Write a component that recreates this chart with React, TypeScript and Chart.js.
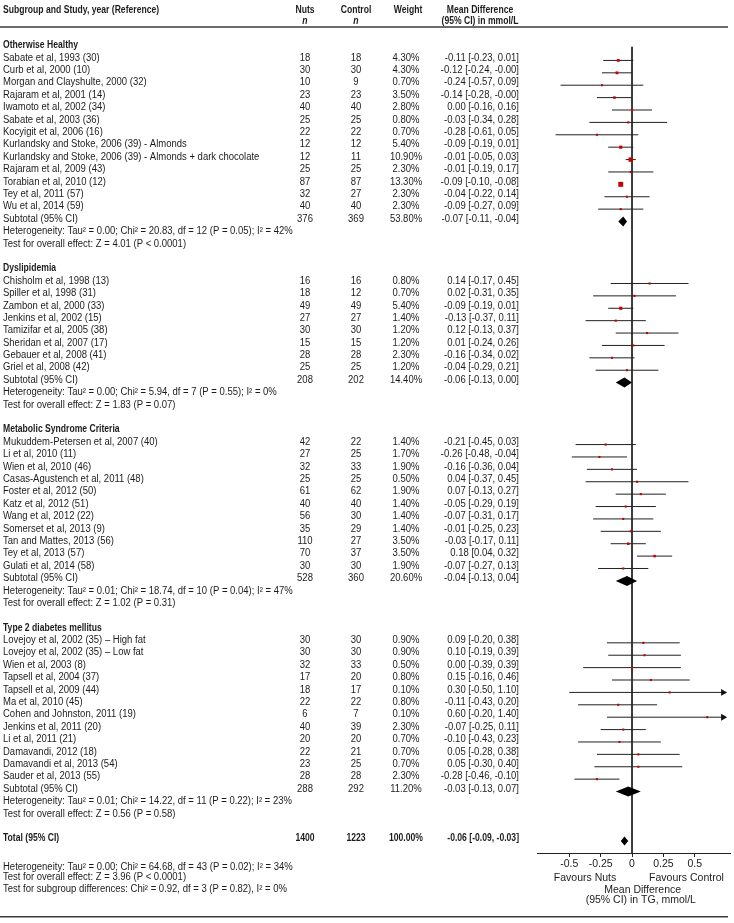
import React, { useEffect, useRef } from "react";
import { Chart, registerables } from "chart.js";

Chart.register(...registerables);

// ---------- data ----------
const groupNames = [
  "Otherwise Healthy",
  "Dyslipidemia",
  "Metabolic Syndrome Criteria",
  "Type 2 diabetes mellitus",
];

const studyGroup = [
  0, 0, 0, 0, 0, 0, 0, 0, 0, 0, 0, 0, 0,
  1, 1, 1, 1, 1, 1, 1, 1,
  2, 2, 2, 2, 2, 2, 2, 2, 2, 2, 2,
  3, 3, 3, 3, 3, 3, 3, 3, 3, 3, 3, 3,
];

const studyNames = [
  "Sabate et al, 1993 (30)",
  "Curb et al, 2000 (10)",
  "Morgan and Clayshulte, 2000 (32)",
  "Rajaram et al, 2001 (14)",
  "Iwamoto et al, 2002 (34)",
  "Sabate et al, 2003 (36)",
  "Kocyigit et al, 2006 (16)",
  "Kurlandsky and Stoke, 2006 (39) - Almonds",
  "Kurlandsky and Stoke, 2006 (39) - Almonds + dark chocolate",
  "Rajaram et al, 2009 (43)",
  "Torabian et al, 2010 (12)",
  "Tey et al, 2011 (57)",
  "Wu et al, 2014 (59)",
  "Chisholm et al, 1998 (13)",
  "Spiller et al, 1998 (31)",
  "Zambon et al, 2000 (33)",
  "Jenkins et al, 2002 (15)",
  "Tamizifar et al, 2005 (38)",
  "Sheridan et al, 2007 (17)",
  "Gebauer et al, 2008 (41)",
  "Griel et al, 2008 (42)",
  "Mukuddem-Petersen et al, 2007 (40)",
  "Li et al, 2010 (11)",
  "Wien et al, 2010 (46)",
  "Casas-Agustench et al, 2011 (48)",
  "Foster et al, 2012 (50)",
  "Katz et al, 2012 (51)",
  "Wang et al, 2012 (22)",
  "Somerset et al, 2013 (9)",
  "Tan and Mattes, 2013 (56)",
  "Tey et al, 2013 (57)",
  "Gulati et al, 2014 (58)",
  "Lovejoy et al, 2002 (35) \u2013 High fat",
  "Lovejoy et al, 2002 (35) \u2013 Low fat",
  "Wien et al, 2003 (8)",
  "Tapsell et al, 2004 (37)",
  "Tapsell et al, 2009 (44)",
  "Ma et al, 2010 (45)",
  "Cohen and Johnston, 2011 (19)",
  "Jenkins et al, 2011 (20)",
  "Li et al, 2011 (21)",
  "Damavandi, 2012 (18)",
  "Damavandi et al, 2013 (54)",
  "Sauder et al, 2013 (55)",
];

const nutsN = [
  18, 30, 10, 23, 40, 25, 22, 12, 12, 25, 87, 32, 40,
  16, 18, 49, 27, 30, 15, 28, 25,
  42, 27, 32, 25, 61, 40, 56, 35, 110, 70, 30,
  30, 30, 32, 17, 18, 22, 6, 40, 20, 22, 23, 28,
];

const controlN = [
  18, 30, 9, 23, 40, 25, 22, 12, 11, 25, 87, 27, 40,
  16, 12, 49, 27, 30, 15, 28, 25,
  22, 25, 33, 25, 62, 40, 30, 29, 27, 37, 30,
  30, 30, 33, 20, 17, 22, 7, 39, 20, 21, 25, 28,
];

const weights = [
  4.3, 4.3, 0.7, 3.5, 2.8, 0.8, 0.7, 5.4, 10.9, 2.3, 13.3, 2.3, 2.3,
  0.8, 0.7, 5.4, 1.4, 1.2, 1.2, 2.3, 1.2,
  1.4, 1.7, 1.9, 0.5, 1.9, 1.4, 1.4, 1.4, 3.5, 3.5, 1.9,
  0.9, 0.9, 0.5, 0.8, 0.1, 0.8, 0.1, 2.3, 0.7, 0.7, 0.7, 2.3,
];

const meanDiff = [
  -0.11, -0.12, -0.24, -0.14, 0.0, -0.03, -0.28, -0.09, -0.01, -0.01, -0.09, -0.04, -0.09,
  0.14, 0.02, -0.09, -0.13, 0.12, 0.01, -0.16, -0.04,
  -0.21, -0.26, -0.16, 0.04, 0.07, -0.05, -0.07, -0.01, -0.03, 0.18, -0.07,
  0.09, 0.1, 0.0, 0.15, 0.3, -0.11, 0.6, -0.07, -0.1, 0.05, 0.05, -0.28,
];

const ciLow = [
  -0.23, -0.24, -0.57, -0.28, -0.16, -0.34, -0.61, -0.19, -0.05, -0.19, -0.1, -0.22, -0.27,
  -0.17, -0.31, -0.19, -0.37, -0.13, -0.24, -0.34, -0.29,
  -0.45, -0.48, -0.36, -0.37, -0.13, -0.29, -0.31, -0.25, -0.17, 0.04, -0.27,
  -0.2, -0.19, -0.39, -0.16, -0.5, -0.43, -0.2, -0.25, -0.43, -0.28, -0.3, -0.46,
];

const ciHigh = [
  0.01, -0, 0.09, -0, 0.16, 0.28, 0.05, 0.01, 0.03, 0.17, -0.08, 0.14, 0.09,
  0.45, 0.35, 0.01, 0.11, 0.37, 0.26, 0.02, 0.21,
  0.03, -0.04, 0.04, 0.45, 0.27, 0.19, 0.17, 0.23, 0.11, 0.32, 0.13,
  0.38, 0.39, 0.39, 0.46, 1.1, 0.2, 1.4, 0.11, 0.23, 0.38, 0.4, -0.1,
];

const subNuts = [376, 208, 528, 288];
const subControl = [369, 202, 360, 292];
const subWeight = [53.8, 14.4, 20.6, 11.2];
const subMD = [-0.07, -0.06, -0.04, -0.03];
const subLow = [-0.11, -0.13, -0.13, -0.13];
const subHigh = [-0.04, 0.0, 0.04, 0.07];
const subHet = [
  "Heterogeneity: Tau\u00b2 = 0.00; Chi\u00b2 = 20.83, df = 12 (P = 0.05); I\u00b2 = 42%",
  "Heterogeneity: Tau\u00b2 = 0.00; Chi\u00b2 = 5.94, df = 7 (P = 0.55); I\u00b2 = 0%",
  "Heterogeneity: Tau\u00b2 = 0.01; Chi\u00b2 = 18.74, df = 10 (P = 0.04); I\u00b2 = 47%",
  "Heterogeneity: Tau\u00b2 = 0.01; Chi\u00b2 = 14.22, df = 11 (P = 0.22); I\u00b2 = 23%",
];
const subTest = [
  "Test for overall effect: Z = 4.01 (P < 0.0001)",
  "Test for overall effect: Z = 1.83 (P = 0.07)",
  "Test for overall effect: Z = 1.02 (P = 0.31)",
  "Test for overall effect: Z = 0.56 (P = 0.58)",
];

const totalNuts = 1400;
const totalControl = 1223;
const totalWeight = 100;
const totalMD = -0.06;
const totalLow = -0.09;
const totalHigh = -0.03;
const footerLines = [
  "Heterogeneity: Tau\u00b2 = 0.00; Chi\u00b2 = 64.68, df = 43 (P = 0.02); I\u00b2 = 34%",
  "Test for overall effect: Z = 3.96 (P < 0.0001)",
  "Test for subgroup differences: Chi\u00b2 = 0.92, df = 3 (P = 0.82), I\u00b2 = 0%",
];

const xTicks = [-0.5, -0.25, 0, 0.25, 0.5];
const xTickLabels = ["-0.5", "-0.25", "0", "0.25", "0.5"];

// ---------- layout ----------
const W = 734;
const H = 923;
const PLOT_LEFT = 537;
const ZERO_PX = 634;
const PX_PER_UNIT = 128;
const XMIN = (PLOT_LEFT - ZERO_PX) / PX_PER_UNIT;
const XMAX = (W - ZERO_PX) / PX_PER_UNIT;
const ARROW_X = XMAX - 0.055;
const AXIS_PX = 853;
const ROW0 = 44.25;
const ROWH = 12.45;
const YMIN = -ROW0 / ROWH;
const YMAX = YMIN + AXIS_PX / ROWH;
const TEXT = "#1c1c1c";
const RED = "#c40000";
const FONT = '"Liberation Sans", Arial, sans-serif';

// row indices
type Row = { kind: string; idx: number; gi?: number; si?: number };
const rows: Row[] = [];
const studyRow: number[] = [];
let cursor = 0;
groupNames.forEach((_, gi) => {
  rows.push({ kind: "heading", gi, idx: cursor++ });
  studyNames.forEach((__, si) => {
    if (studyGroup[si] === gi) {
      studyRow[si] = cursor;
      rows.push({ kind: "study", si, idx: cursor++ });
    }
  });
  rows.push({ kind: "subtotal", gi, idx: cursor++ });
  rows.push({ kind: "het", gi, idx: cursor++ });
  rows.push({ kind: "test", gi, idx: cursor++ });
  cursor++;
});
const totalRow = cursor;
const footerRows = [totalRow + 2.3, totalRow + 3.1, totalRow + 4.05];

const f2 = (v: number) => (Object.is(v, -0) ? "-0.00" : v.toFixed(2));
const mdText = (m: number, l: number, h: number) => `${f2(m)} [${f2(l)}, ${f2(h)}]`;
const wText = (w: number) => `${w.toFixed(2)}%`;

const COL_NUTS = 305;
const COL_CTRL = 356;
const COL_W = 406;
const COL_MD = 519;

const forestPlugin = {
  id: "forestText",
  afterDatasetsDraw(chart: any) {
    const ctx = chart.ctx as CanvasRenderingContext2D;
    const xs = chart.scales.x;
    const ys = chart.scales.y;
    const diamond = (m: number, l: number, h: number, idx: number, half: number) => {
      const y = ys.getPixelForValue(idx);
      ctx.beginPath();
      ctx.moveTo(xs.getPixelForValue(l), y);
      ctx.lineTo(xs.getPixelForValue(m), y - half);
      ctx.lineTo(xs.getPixelForValue(h), y);
      ctx.lineTo(xs.getPixelForValue(m), y + half);
      ctx.closePath();
      ctx.fill();
    };
    ctx.save();
    ctx.fillStyle = "#000";
    rows.forEach((r) => {
      if (r.kind === "subtotal") {
        const g = r.gi as number;
        diamond(subMD[g], subLow[g], subHigh[g], r.idx, 5);
      }
    });
    diamond(totalMD, totalLow, totalHigh, totalRow, 4.5);
    ctx.restore();
  },
  afterDraw(chart: any) {
    const ctx = chart.ctx as CanvasRenderingContext2D;
    const xs = chart.scales.x;
    const ys = chart.scales.y;
    const ty = (i: number) => ys.getPixelForValue(i) - 2.5;
    const put = (
      txt: string,
      x: number,
      y: number,
      align: CanvasTextAlign,
      bold = false,
      size = 10,
      italic = false,
      squeeze = 0.95
    ) => {
      ctx.save();
      ctx.font = `${italic ? "italic " : ""}${bold ? "bold " : ""}${size}px ${FONT}`;
      ctx.textAlign = align;
      ctx.textBaseline = "middle";
      ctx.fillStyle = TEXT;
      ctx.translate(x, y);
      ctx.scale(bold ? 0.86 : squeeze, 1);
      ctx.fillText(txt, 0, 0);
      ctx.restore();
    };

    // header
    const h1 = ty(-2.87);
    const h2 = ty(-1.99);
    put("Subgroup and Study, year (Reference)", 3, h1, "left", true);
    put("Nuts", COL_NUTS, h1, "center", true);
    put("n", COL_NUTS, h2, "center", true, 10, true);
    put("Control", COL_CTRL, h1, "center", true);
    put("n", COL_CTRL, h2, "center", true, 10, true);
    put("Weight", COL_W + 2, h1, "center", true);
    put("Mean Difference", 480, h1, "center", true);
    put("(95% CI) in mmol/L", 480, h2, "center", true);

    ctx.save();
    ctx.strokeStyle = "#3a3a3a";
    ctx.lineWidth = 1.5;
    const hl = ys.getPixelForValue(-1.7);
    ctx.beginPath();
    ctx.moveTo(0, hl);
    ctx.lineTo(728, hl);
    ctx.stroke();
    const bl = ys.getPixelForValue(70.1);
    ctx.beginPath();
    ctx.moveTo(0, bl);
    ctx.lineTo(728, bl);
    ctx.stroke();
    ctx.restore();

    rows.forEach((r) => {
      const y = ty(r.idx);
      if (r.kind === "heading") {
        put(groupNames[r.gi as number], 3, y, "left", true);
      } else if (r.kind === "study") {
        const s = r.si as number;
        put(studyNames[s], 3, y, "left");
        put(String(nutsN[s]), COL_NUTS, y, "center");
        put(String(controlN[s]), COL_CTRL, y, "center");
        put(wText(weights[s]), COL_W, y, "center");
        put(mdText(meanDiff[s], ciLow[s], ciHigh[s]), COL_MD, y, "right");
      } else if (r.kind === "subtotal") {
        const g = r.gi as number;
        put("Subtotal (95% CI)", 3, y, "left");
        put(String(subNuts[g]), COL_NUTS, y, "center");
        put(String(subControl[g]), COL_CTRL, y, "center");
        put(wText(subWeight[g]), COL_W, y, "center");
        put(mdText(subMD[g], subLow[g], subHigh[g]), COL_MD, y, "right");
      } else if (r.kind === "het") {
        put(subHet[r.gi as number], 3, y, "left");
      } else if (r.kind === "test") {
        put(subTest[r.gi as number], 3, y, "left");
      }
    });

    const yt = ty(totalRow);
    put("Total (95% CI)", 3, yt, "left", true);
    put(String(totalNuts), COL_NUTS, yt, "center", true);
    put(String(totalControl), COL_CTRL, yt, "center", true);
    put(wText(totalWeight), COL_W, yt, "center", true);
    put(mdText(totalMD, totalLow, totalHigh), COL_MD, yt, "right", true);
    footerLines.forEach((t, i) => put(t, 3, ty(footerRows[i]), "left"));

    // axis captions
    put("Favours Nuts", xs.getPixelForValue(-0.375), ty(67.2), "center", false, 10.5, false, 1);
    put("Favours Control", xs.getPixelForValue(0.434), ty(67.2), "center", false, 10.5, false, 1);
    put("Mean Difference", xs.getPixelForValue(0.085), ty(68.15), "center", false, 10.5, false, 1);
    put("(95% CI) in TG, mmol/L", xs.getPixelForValue(0.07), ty(68.95), "center", false, 10.5, false, 1);
  },
};

export default function App() {
  const ref = useRef<HTMLCanvasElement | null>(null);

  useEffect(() => {
    if (!ref.current) return;

    const ciSets = studyNames.map((_, i) => ({
      type: "scatter" as const,
      showLine: true,
      data: [
        { x: ciLow[i], y: studyRow[i] },
        { x: Math.min(ciHigh[i], ARROW_X), y: studyRow[i] },
      ],
      borderColor: "#222",
      borderWidth: 1,
      pointRadius: 0,
      order: 3,
    }));

    const arrowPts = studyNames
      .map((_, i) => (ciHigh[i] > XMAX ? { x: ARROW_X, y: studyRow[i] } : null))
      .filter((p) => p !== null);

    const chart = new Chart(ref.current, {
      type: "scatter",
      data: {
        datasets: [
          {
            data: studyNames.map((_, i) => ({ x: meanDiff[i], y: studyRow[i] })),
            pointStyle: "rect",
            pointRadius: weights.map((w) => Math.max(2.1, 1.35 * Math.sqrt(w)) / 1.414),
            backgroundColor: RED,
            borderWidth: 0,
            order: 0,
          },
          {
            data: arrowPts as any,
            pointStyle: "triangle",
            rotation: 90,
            pointRadius: 4,
            backgroundColor: "#111",
            borderWidth: 0,
            order: 1,
          },
          ...ciSets,
          {
            type: "scatter",
            showLine: true,
            data: [
              { x: 0, y: -0.1 },
              { x: 0, y: YMAX },
            ],
            borderColor: "#222",
            borderWidth: 1,
            pointRadius: 0,
            order: 5,
          },
        ] as any,
      },
      options: {
        animation: false,
        responsive: false,
        devicePixelRatio: 1,
        events: [],
        layout: { padding: { left: PLOT_LEFT, right: 0, top: 0, bottom: 0 } },
        plugins: { legend: { display: false }, tooltip: { enabled: false } },
        scales: {
          x: {
            type: "linear",
            min: XMIN,
            max: XMAX,
            position: "bottom",
            afterBuildTicks: (s: any) => {
              s.ticks = xTicks.map((v) => ({ value: v }));
            },
            afterFit: (s: any) => {
              s.height = H - AXIS_PX;
            },
            ticks: {
              autoSkip: false,
              maxRotation: 0,
              minRotation: 0,
              padding: 1,
              color: "#222",
              font: { family: FONT, size: 10.5 },
              callback: (v: any) => {
                const k = xTicks.indexOf(Number(v));
                return k >= 0 ? xTickLabels[k] : "";
              },
            },
            grid: {
              display: true,
              drawOnChartArea: false,
              drawTicks: true,
              tickLength: 4,
              color: "#222",
            },
            border: { display: true, color: "#222", width: 1 },
          },
          y: {
            type: "linear",
            display: false,
            reverse: true,
            min: YMIN,
            max: YMAX,
          },
        },
      } as any,
      plugins: [forestPlugin],
    });

    return () => chart.destroy();
  }, []);

  return (
    <div style={{ position: "fixed", left: 0, top: 0, width: W, height: H, background: "#fff" }}>
      <canvas ref={ref} width={W} height={H} style={{ width: W, height: H, display: "block" }} />
    </div>
  );
}
